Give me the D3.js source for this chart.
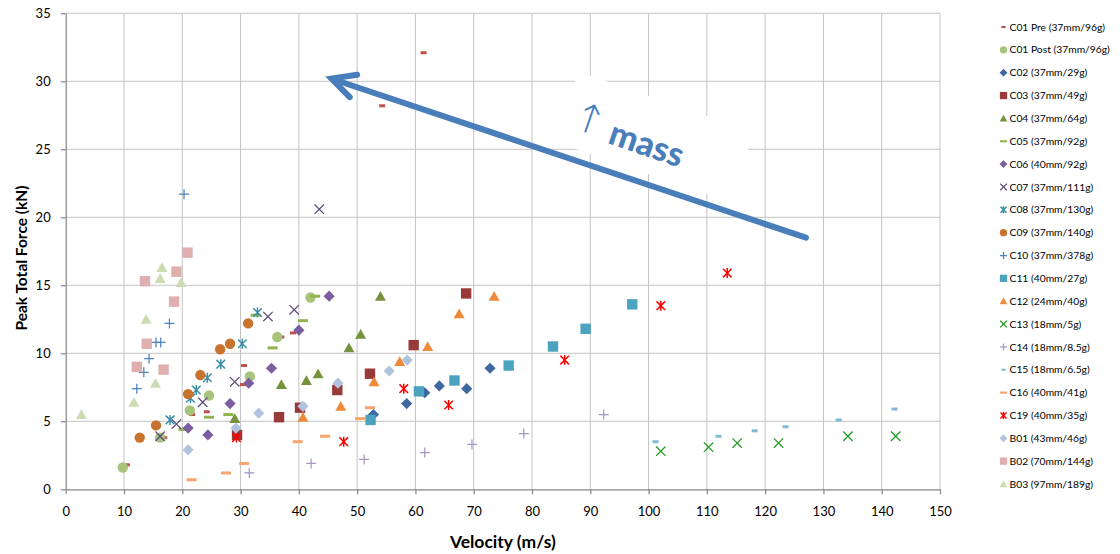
<!DOCTYPE html>
<html>
<head>
<meta charset="utf-8">
<script src="https://cdn.jsdelivr.net/npm/d3@7"></script>
<style>
  html, body { margin: 0; padding: 0; background: #fff; }
  svg { display: block; font-family: Lato, "Liberation Sans", sans-serif; }
</style>
</head>
<body>
<svg id="chart" width="1120" height="554"></svg>
<script>
// Impact tests: [velocity (m/s), peak total force (kN)] for each projectile series
const C01_PRE  = [[10.5,1.8],[16.9,3.8],[21.7,5.5],[24.2,5.7],[30.4,7.7],[30.6,9.1],[37.0,11.2],[39.0,11.5],[54.3,28.2],[61.4,32.1]];
const C01_POST = [[9.8,1.6],[16.2,3.8],[21.3,5.8],[24.6,6.9],[31.6,8.3],[36.3,11.2],[42.0,14.1]];
const C02 = [[52.8,5.5],[58.5,6.3],[61.6,7.1],[64.1,7.6],[68.8,7.4],[72.8,8.9]];
const C03 = [[29.4,4.0],[36.6,5.3],[40.2,6.0],[46.6,7.3],[52.2,8.5],[59.7,10.6],[68.7,14.4]];
const C04 = [[29.0,5.2],[37.0,7.7],[41.3,8.0],[43.3,8.5],[48.6,10.4],[50.6,11.4],[54.0,14.2]];
const C05 = [[20.2,4.4],[24.6,5.3],[27.9,5.5],[32.6,12.8],[35.5,10.4],[40.7,12.4],[42.8,14.2]];
const C06 = [[21.0,4.5],[24.4,4.0],[28.2,6.3],[31.4,7.8],[35.3,8.9],[40.0,11.7],[45.2,14.2]];
const C07 = [[16.2,3.9],[19.0,4.8],[23.5,6.4],[29.0,7.9],[34.7,12.7],[39.2,13.2],[43.5,20.6]];
const C08 = [[17.9,5.1],[21.4,6.7],[22.4,7.3],[24.3,8.2],[26.6,9.2],[30.3,10.7],[32.9,13.0]];
const C09 = [[12.7,3.8],[15.5,4.7],[21.0,7.0],[23.1,8.4],[26.5,10.3],[28.2,10.7],[31.3,12.2]];
const C10 = [[12.2,7.4],[13.4,8.6],[14.3,9.6],[15.5,10.8],[16.3,10.8],[17.8,12.2],[20.3,21.7]];
const C11 = [[52.3,5.1],[60.6,7.2],[66.7,8.0],[76.0,9.1],[83.6,10.5],[89.2,11.8],[97.2,13.6]];
const C12 = [[40.7,5.3],[47.2,6.1],[52.9,7.9],[57.3,9.4],[62.1,10.5],[67.5,12.9],[73.5,14.2]];
const C13 = [[102.1,2.8],[110.3,3.1],[115.2,3.4],[122.3,3.4],[134.2,3.9],[142.4,3.9]];
const C14 = [[31.5,1.2],[42.1,1.9],[51.2,2.2],[61.6,2.7],[69.7,3.3],[78.6,4.1],[92.3,5.5]];
const C15 = [[101.2,3.5],[112.0,3.9],[118.2,4.3],[123.5,4.6],[132.6,5.1],[142.2,5.9]];
const C16 = [[21.6,0.7],[27.5,1.2],[30.6,1.9],[39.8,3.5],[44.5,3.9],[50.5,5.2],[52.2,6.0]];
const C19 = [[29.3,3.8],[47.7,3.5],[58.0,7.4],[65.7,6.2],[85.6,9.5],[102.1,13.5],[113.5,15.9]];
const B01 = [[21.0,2.9],[29.2,4.5],[33.1,5.6],[40.7,6.1],[46.7,7.8],[55.5,8.7],[58.6,9.5]];
const B02 = [[12.2,9.0],[13.9,10.7],[13.6,15.3],[16.8,8.8],[18.6,13.8],[19.0,16.0],[20.9,17.4]];
const B03 = [[2.7,5.5],[11.7,6.4],[13.8,12.5],[15.4,7.8],[16.2,15.5],[16.5,16.3],[19.8,15.2]];

const seriesNames = [
  "C01 Pre (37mm/96g)", "C01 Post (37mm/96g)", "C02 (37mm/29g)", "C03 (37mm/49g)",
  "C04 (37mm/64g)", "C05 (37mm/92g)", "C06 (40mm/92g)", "C07 (37mm/111g)",
  "C08 (37mm/130g)", "C09 (37mm/140g)", "C10 (37mm/378g)", "C11 (40mm/27g)",
  "C12 (24mm/40g)", "C13 (18mm/5g)", "C14 (18mm/8.5g)", "C15 (18mm/6.5g)",
  "C16 (40mm/41g)", "C19 (40mm/35g)", "B01 (43mm/46g)", "B02 (70mm/144g)", "B03 (97mm/189g)"
];
const seriesValues = [C01_PRE, C01_POST, C02, C03, C04, C05, C06, C07, C08, C09, C10,
  C11, C12, C13, C14, C15, C16, C19, B01, B02, B03];
const seriesMarkers = ["dashShort", "circle", "diamond", "square", "triangle", "dashLong",
  "diamond", "cross", "star", "circle", "plus", "square", "triangle", "cross", "plus",
  "dashShort", "dashLong", "star", "diamond", "square", "triangle"];
const seriesColors = ["#C0504D", "#A8C47C", "#3D68A0", "#973A38", "#76923C", "#92B450",
  "#7B5E9E", "#604A7B", "#3A8EA8", "#C8742F", "#4F81BD", "#4BA3BF", "#EE8A3A", "#229A22",
  "#A796C4", "#7FBBD4", "#F8A46C", "#FF0000", "#B1C4DF", "#DFAFB0", "#CCDCB2"];

const xTicks = d3.range(0, 151, 10);
const yTicks = d3.range(0, 36, 5);

const series = seriesNames.map((name, i) => ({
  name, values: seriesValues[i], marker: seriesMarkers[i], color: seriesColors[i]
}));

const svg = d3.select("#chart");
const x = d3.scaleLinear().domain([0, 150]).range([65.7, 940]);
const y = d3.scaleLinear().domain([0, 35]).range([489.3, 13.3]);

// Marker outlines (centred at the origin) in the style of spreadsheet scatter markers
function markerPath(type, k) {
  const p = d3.path();
  const s = 5 * k;
  switch (type) {
    case "circle":
      p.arc(0, 0, 5.2 * k, 0, 2 * Math.PI); p.closePath(); break;
    case "square":
      p.rect(-5.2 * k, -5.2 * k, 10.4 * k, 10.4 * k); break;
    case "diamond": {
      const d = 5.6 * k;
      p.moveTo(0, -d); p.lineTo(d, 0); p.lineTo(0, d); p.lineTo(-d, 0); p.closePath(); break;
    }
    case "triangle":
      p.moveTo(0, -5.3 * k); p.lineTo(5.5 * k, 4.5 * k); p.lineTo(-5.5 * k, 4.5 * k); p.closePath(); break;
    case "cross": {
      const c = 4.7 * k;
      p.moveTo(-c, -c); p.lineTo(c, c); p.moveTo(-c, c); p.lineTo(c, -c); break;
    }
    case "plus":
      p.moveTo(-s, 0); p.lineTo(s, 0); p.moveTo(0, -s); p.lineTo(0, s); break;
    case "star": {
      const c = 4.3 * k;
      p.moveTo(-c, -c); p.lineTo(c, c); p.moveTo(-c, c); p.lineTo(c, -c);
      p.moveTo(0, -s); p.lineTo(0, s); break;
    }
    case "dashLong":
      p.rect(-s, -1.5 * k, 2 * s, 3 * k); break;
    case "dashShort":
      p.rect(-3 * k, -1.5 * k, 6 * k, 3 * k); break;
  }
  return p.toString();
}
const isLineMarker = t => t === "cross" || t === "plus" || t === "star";

function styleMarker(sel, d) {
  if (isLineMarker(d.marker)) {
    sel.attr("fill", "none").attr("stroke", d.color)
      .attr("stroke-width", d.marker === "star" ? 1.5 : 1.25);
  } else {
    sel.attr("fill", d.color).attr("stroke", "none");
  }
}

// Gridlines
const grid = svg.append("g").attr("class", "grid");
grid.selectAll("line.v").data(xTicks.filter(t => t > 0)).join("line")
  .attr("x1", d => x(d)).attr("x2", d => x(d))
  .attr("y1", y(0)).attr("y2", y(35))
  .attr("stroke", "#C3C3C3").attr("stroke-width", 1);
grid.selectAll("line.h").data(yTicks.filter(t => t > 0)).join("line")
  .attr("x1", x(0)).attr("x2", x(150))
  .attr("y1", d => y(d)).attr("y2", d => y(d))
  .attr("stroke", "#C3C3C3").attr("stroke-width", 1);

// White text box behind the "mass" note
const noteAngle = 19;
const noteCentre = [x(101.0), y(25.9)];
svg.append("g")
  .attr("transform", `translate(${noteCentre[0]},${noteCentre[1]}) rotate(${noteAngle})`)
  .append("rect")
  .attr("x", -93).attr("y", -37).attr("width", 186).attr("height", 74)
  .attr("fill", "#fff");

// Axes
const xAxis = d3.axisBottom(x).tickValues(xTicks).tickSize(5).tickSizeOuter(0).tickPadding(12.5);
const yAxis = d3.axisLeft(y).tickValues(yTicks).tickSize(5).tickSizeOuter(0).tickPadding(10);

const gx = svg.append("g").attr("transform", `translate(0,${y(0)})`).call(xAxis);
const gy = svg.append("g").attr("transform", `translate(${x(0)},0)`).call(yAxis);
[gx, gy].forEach(g => {
  g.select(".domain").attr("stroke", "#868686").attr("stroke-width", 1.2);
  g.selectAll(".tick line").attr("stroke", "#868686").attr("stroke-width", 1.2);
  g.selectAll(".tick text").attr("fill", "#000").attr("font-size", 13)
    .attr("font-family", "Lato, 'Liberation Sans', sans-serif");
});

// Axis titles
svg.append("text")
  .attr("x", (x(0) + x(150)) / 2).attr("y", 547.5)
  .attr("text-anchor", "middle").attr("font-weight", 700).attr("font-size", 17.5)
  .text("Velocity (m/s)");
svg.append("text")
  .attr("transform", `translate(27,258) rotate(-90)`)
  .attr("text-anchor", "middle").attr("font-weight", 700).attr("font-size", 15.5)
  .text("Peak Total Force (kN)");

// Data points, series in order so later series sit on top
const plot = svg.append("g").attr("class", "points");
series.forEach(s => {
  plot.append("g").selectAll("path").data(s.values).join("path")
    .attr("d", markerPath(s.marker, 1))
    .attr("transform", d => `translate(${x(d[0])},${y(d[1])})`)
    .call(sel => styleMarker(sel, s));
});

// Trend arrow towards increasing projectile mass
const tail = [x(127.0), y(18.5)];
const tip = [x(45.6), y(30.2)];
const arrowColor = "#4A7EBB";
svg.append("line")
  .attr("x1", tail[0]).attr("y1", tail[1]).attr("x2", tip[0] + 4).attr("y2", tip[1] + 1.4)
  .attr("stroke", arrowColor).attr("stroke-width", 6).attr("stroke-linecap", "round");
const ang = Math.atan2(tail[1] - tip[1], tail[0] - tip[0]);
const arm = 26, spread = 27 * Math.PI / 180;
const headPath = d3.path();
headPath.moveTo(tip[0] + arm * Math.cos(ang - spread), tip[1] + arm * Math.sin(ang - spread));
headPath.lineTo(tip[0], tip[1]);
headPath.lineTo(tip[0] + arm * Math.cos(ang + spread), tip[1] + arm * Math.sin(ang + spread));
svg.append("path").attr("d", headPath.toString())
  .attr("fill", "none").attr("stroke", arrowColor).attr("stroke-width", 6)
  .attr("stroke-linecap", "round").attr("stroke-linejoin", "miter");

// "↑ mass" note
const note = svg.append("g")
  .attr("transform", `translate(${noteCentre[0]},${noteCentre[1]}) rotate(${noteAngle})`);
note.append("text")
  .attr("x", -67).attr("y", 4).attr("dy", "0.35em")
  .attr("text-anchor", "middle").attr("font-size", 40).attr("fill", arrowColor)
  .attr("font-family", "'DejaVu Sans', sans-serif").attr("font-weight", 300)
  .text("↑");
note.append("text")
  .attr("x", -5).attr("y", 9).attr("dy", "0.35em")
  .attr("text-anchor", "middle").attr("font-size", 34).attr("font-weight", 900)
  .attr("fill", arrowColor)
  .text("mass");

// Legend
const legendY = d3.scaleLinear().domain([0, 20]).range([27, 484]);
const legend = svg.append("g").attr("class", "legend");
series.forEach((s, i) => {
  const row = legend.append("g").attr("transform", `translate(1003.5,${legendY(i)})`);
  row.append("path").attr("d", markerPath(s.marker, 0.7)).call(sel => styleMarker(sel, s));
  row.append("text").attr("x", 6).attr("dy", "0.35em")
    .attr("font-size", 10.3).attr("fill", "#000").text(s.name);
});
</script>
</body>
</html>
